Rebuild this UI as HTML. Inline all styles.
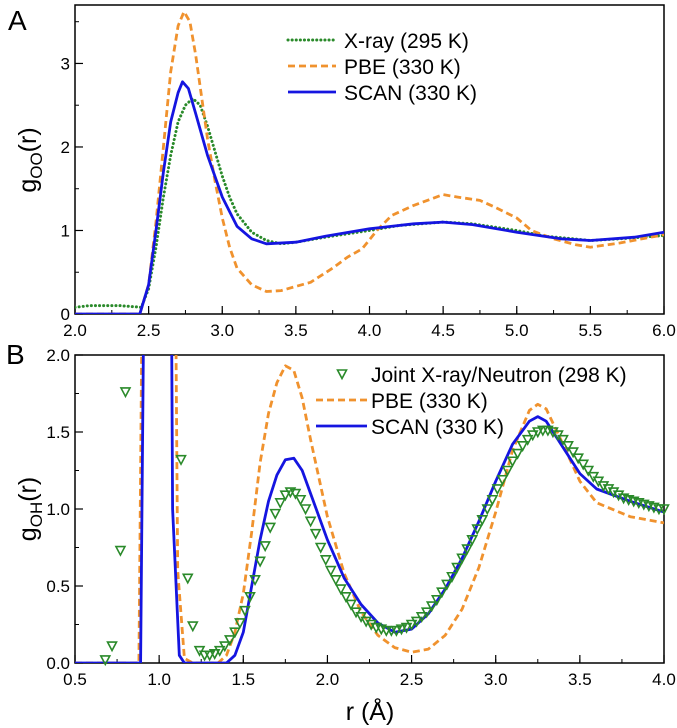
<!DOCTYPE html>
<html><head><meta charset="utf-8"><style>
html,body{margin:0;padding:0;background:#fff;}
svg{display:block;font-family:"Liberation Sans",Arial,sans-serif;}
</style></head><body>
<svg id="fig" width="677" height="728" viewBox="0 0 677 728" xmlns="http://www.w3.org/2000/svg">
<defs>
<clipPath id="clipA"><rect x="75" y="5" width="589" height="309"/></clipPath>
<clipPath id="clipB"><rect x="75" y="355" width="589" height="308"/></clipPath>
</defs>
<text x="8" y="30" font-size="28">A</text>
<text x="6" y="364" font-size="28">B</text>
<text transform="translate(36,160) rotate(-90)" text-anchor="middle" font-size="25">g<tspan font-size="17" dy="6">OO</tspan><tspan dy="-6">(r)</tspan></text>
<text transform="translate(36,509) rotate(-90)" text-anchor="middle" font-size="25">g<tspan font-size="17" dy="6">OH</tspan><tspan dy="-6">(r)</tspan></text>
<text x="370" y="720" text-anchor="middle" font-size="25">r (Å)</text>
<g id="gA"></g><g id="gB"></g>
</svg>
<script>
// ---- Panel A data ----
const xrayR=[2.0,2.1,2.3,2.45,2.5,2.55,2.6,2.65,2.7,2.75,2.8,2.85,2.9,2.95,3.0,3.05,3.1,3.2,3.3,3.4,3.5,3.7,4.0,4.2,4.5,4.7,5.0,5.2,5.5,5.7,6.0];
const xrayG=[0.08,0.1,0.1,0.08,0.3,0.8,1.4,1.9,2.3,2.5,2.58,2.5,2.25,1.95,1.65,1.4,1.2,0.98,0.88,0.84,0.86,0.92,1.0,1.06,1.1,1.08,1.0,0.93,0.88,0.9,0.94];
const pbeAR=[2.0,2.44,2.5,2.55,2.6,2.65,2.7,2.74,2.78,2.82,2.86,2.9,2.95,3.0,3.05,3.1,3.2,3.3,3.4,3.5,3.6,3.75,3.85,3.95,4.05,4.15,4.3,4.5,4.6,4.75,4.85,5.0,5.1,5.25,5.4,5.5,5.7,6.0];
const pbeAG=[0,0,0.35,1.1,2.0,2.9,3.45,3.62,3.5,3.1,2.6,2.1,1.6,1.15,0.8,0.55,0.35,0.27,0.28,0.33,0.38,0.55,0.68,0.78,1.0,1.18,1.3,1.43,1.4,1.36,1.28,1.15,1.0,0.9,0.83,0.8,0.85,0.95];
const scanAR=[2.0,2.44,2.5,2.55,2.6,2.65,2.7,2.73,2.77,2.82,2.9,3.0,3.1,3.2,3.3,3.5,3.7,4.0,4.3,4.5,4.7,5.0,5.3,5.5,5.8,6.0];
const scanAG=[0,0,0.35,1.0,1.7,2.3,2.65,2.78,2.7,2.4,1.9,1.4,1.05,0.9,0.84,0.86,0.93,1.02,1.08,1.1,1.07,0.98,0.9,0.88,0.92,0.98];
const ticksAX=["2.0","2.5","3.0","3.5","4.0","4.5","5.0","5.5","6.0"];
const ticksAY=["0","1","2","3"];
// ---- Panel B data ----
const pbeBR=[0.5,0.88,0.92,1.08,1.11,1.15,1.2,1.35,1.4,1.45,1.5,1.55,1.6,1.65,1.7,1.75,1.8,1.85,1.9,2.0,2.1,2.2,2.3,2.4,2.5,2.6,2.7,2.8,2.9,3.0,3.1,3.2,3.25,3.3,3.4,3.5,3.6,3.8,4.0];
const pbeBG=[0,0,5,5,0.6,0.03,0,0,0.05,0.2,0.45,0.85,1.3,1.62,1.82,1.93,1.9,1.72,1.45,0.95,0.58,0.33,0.18,0.1,0.07,0.09,0.18,0.35,0.62,0.98,1.38,1.64,1.68,1.65,1.42,1.18,1.04,0.95,0.91];
const scanBR=[0.5,0.89,0.93,1.06,1.08,1.12,1.15,1.4,1.45,1.5,1.55,1.6,1.65,1.7,1.75,1.8,1.85,1.9,2.0,2.1,2.2,2.3,2.4,2.5,2.6,2.7,2.8,2.9,3.0,3.1,3.2,3.25,3.3,3.4,3.5,3.6,3.8,4.0];
const scanBG=[0,0,5,5,1.0,0.05,0,0,0.05,0.2,0.5,0.8,1.05,1.22,1.32,1.33,1.25,1.1,0.8,0.55,0.38,0.26,0.2,0.22,0.32,0.48,0.68,0.92,1.18,1.42,1.57,1.6,1.57,1.4,1.23,1.13,1.05,0.98];
const jointR=[0.68,0.72,0.77,0.80,1.13,1.17,1.20,1.24,1.27,1.30,1.33,1.36,1.39,1.42,1.45,1.48,1.51,1.54,1.57,1.60,1.63,1.66,1.69,1.72,1.75,1.78,1.81,1.84,1.87,1.90,1.93,1.96,1.99,2.02,2.05,2.08,2.11,2.14,2.17,2.20,2.23,2.26,2.29,2.32,2.35,2.38,2.41,2.44,2.47,2.50,2.53,2.56,2.59,2.62,2.65,2.68,2.71,2.74,2.77,2.80,2.83,2.86,2.89,2.92,2.95,2.98,3.01,3.04,3.07,3.10,3.13,3.16,3.19,3.22,3.25,3.28,3.31,3.34,3.37,3.40,3.43,3.46,3.49,3.52,3.55,3.58,3.61,3.64,3.67,3.70,3.73,3.76,3.79,3.82,3.85,3.88,3.91,3.94,3.97,4.0];
const jointG=[0.02,0.11,0.73,1.76,1.32,0.55,0.24,0.08,0.05,0.05,0.06,0.08,0.11,0.15,0.2,0.26,0.34,0.43,0.54,0.66,0.76,0.88,0.97,1.04,1.09,1.11,1.1,1.06,1.0,0.92,0.84,0.75,0.67,0.6,0.54,0.48,0.43,0.38,0.33,0.3,0.27,0.25,0.23,0.22,0.21,0.21,0.21,0.22,0.23,0.25,0.27,0.3,0.33,0.37,0.41,0.46,0.51,0.56,0.62,0.68,0.74,0.8,0.87,0.93,1.0,1.06,1.13,1.19,1.25,1.31,1.36,1.41,1.45,1.48,1.5,1.51,1.51,1.5,1.48,1.45,1.41,1.37,1.33,1.29,1.25,1.21,1.18,1.15,1.13,1.11,1.09,1.07,1.06,1.05,1.04,1.03,1.02,1.01,1.0,1.0];
const ticksBX=["0.5","1.0","1.5","2.0","2.5","3.0","3.5","4.0"];
const ticksBY=["0.0","0.5","1.0","1.5","2.0"];

const NS="http://www.w3.org/2000/svg";
function mk(parent,tag,attrs){const e=document.createElementNS(NS,tag);for(const k in attrs)e.setAttribute(k,attrs[k]);parent.appendChild(e);return e;}
const GREEN="#2a8a2a",ORANGE="#f0922e",BLUE="#1515e0";

function axes(g,L,R,T,B,xmin,xmax,ymin,ymax,tx,ty,xminor,yminor,pfx){
  const sx=v=>L+(v-xmin)/(xmax-xmin)*(R-L);
  const sy=v=>B-(v-ymin)/(ymax-ymin)*(B-T);
  const fr=mk(g,'rect',{x:L,y:T,width:R-L,height:B-T,fill:'none',stroke:'#000','stroke-width':1.5});
  
  
  for(let v=xmin;v<=xmax+1e-9;v+=xminor){const x=sx(v);mk(g,'line',{x1:x,x2:x,y1:B,y2:B-4,stroke:'#000','stroke-width':1});}
  tx.forEach(t=>{const x=sx(parseFloat(t));mk(g,'line',{x1:x,x2:x,y1:B,y2:B-8,stroke:'#000','stroke-width':1.2});
    const tt=mk(g,'text',{x:x,y:B+22,'text-anchor':'middle','font-size':17});tt.textContent=t;
    
    });
  for(let v=ymin;v<=ymax+1e-9;v+=yminor){const y=sy(v);mk(g,'line',{x1:L,x2:L+4,y1:y,y2:y,stroke:'#000','stroke-width':1});}
  ty.forEach(t=>{const y=sy(parseFloat(t));mk(g,'line',{x1:L,x2:L+8,y1:y,y2:y,stroke:'#000','stroke-width':1.2});
    const tt=mk(g,'text',{x:L-5,y:y+6,'text-anchor':'end','font-size':17});tt.textContent=t;
    
    });
  return {sx,sy};
}
function line(g,s,xs,ys,style,clip,name){
  const d=xs.map((x,i)=>(i?'L':'M')+s.sx(x).toFixed(1)+','+s.sy(ys[i]).toFixed(1)).join('');
  const p=mk(g,'path',Object.assign({d:d,fill:'none','clip-path':clip,'stroke-linejoin':'round'},style));
  
  
}
function legend(g,y,x1,x2,tx,label,style,name){
  const l=mk(g,'line',Object.assign({x1:x1,x2:x2,y1:y,y2:y},style));
  const t=mk(g,'text',{x:tx,y:y+8,'font-size':21});t.textContent=label;
  
  
}
const sDot={stroke:GREEN,'stroke-width':3,'stroke-dasharray':'0.1 4','stroke-linecap':'round'};
const sDash={stroke:ORANGE,'stroke-width':2.8,'stroke-dasharray':'7 4'};
const sSolid={stroke:BLUE,'stroke-width':2.8};

// Panel A
const gA=document.getElementById('gA');
const sA=axes(gA,75,664,5,314,2,6,0,3.7,ticksAX,ticksAY,0.25,0.5,'a-');
line(gA,sA,xrayR,xrayG,sDot,'url(#clipA)','xray-line');
line(gA,sA,pbeAR,pbeAG,sDash,'url(#clipA)','pbe-line-a');
line(gA,sA,scanAR,scanAG,sSolid,'url(#clipA)','scan-line-a');
legend(gA,40,288,336,344,'X-ray (295 K)',sDot,'legend-xray');
legend(gA,66,288,336,344,'PBE (330 K)',sDash,'legend-pbe-a');
legend(gA,92,288,336,344,'SCAN (330 K)',sSolid,'legend-scan-a');

// Panel B
const gB=document.getElementById('gB');
const sB=axes(gB,75,664,355,663,0.5,4,0,2,ticksBX,ticksBY,0.25,0.25,'b-');
line(gB,sB,pbeBR,pbeBG,sDash,'url(#clipB)','pbe-line-b');
line(gB,sB,scanBR,scanBG,sSolid,'url(#clipB)','scan-line-b');
function tri(g,x,y){const p=mk(g,'path',{d:`M${x-4.5},${y-4}L${x+4.5},${y-4}L${x},${y+4.5}Z`,fill:'none',stroke:GREEN,'stroke-width':1.6});return p;}
jointR.forEach((r,i)=>{const p=tri(gB,sB.sx(r),sB.sy(jointG[i]));
  
  });
const lm=tri(gB,342,374);


const lt=mk(gB,'text',{x:371,y:382,'font-size':21});lt.textContent='Joint X-ray/Neutron (298 K)';


legend(gB,400,316,367,371,'PBE (330 K)',sDash,'legend-pbe-b');
legend(gB,426,316,367,371,'SCAN (330 K)',sSolid,'legend-scan-b');
</script>
</body></html>
